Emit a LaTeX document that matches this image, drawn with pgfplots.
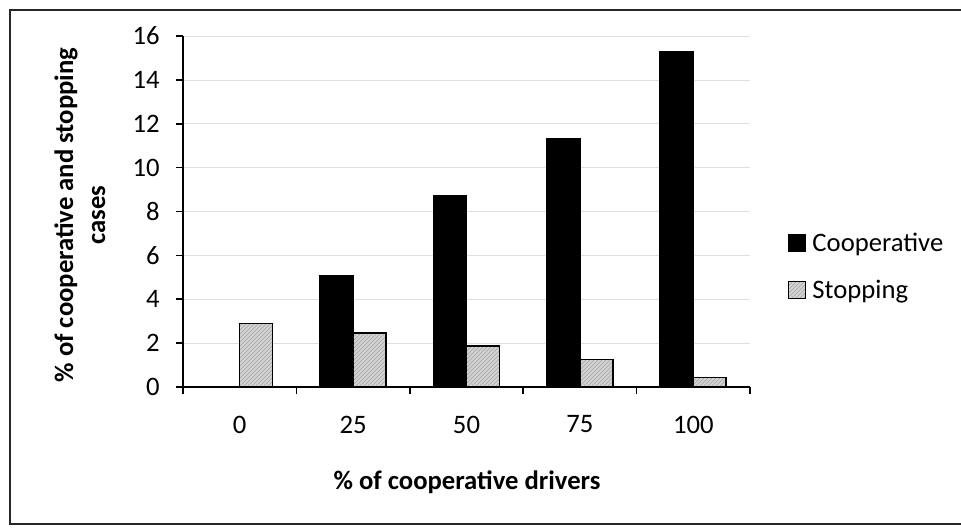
\documentclass[border=0pt]{standalone}
\usepackage{fontspec}
\setmainfont{Carlito}
\usepackage{pgfplots}
\pgfplotsset{compat=1.18}
\usetikzlibrary{patterns}

\pgfplotstableread{
x coop stop
0 0    2.89
1 5.09 2.46
2 8.70 1.86
3 11.32 1.25
4 15.27 0.43
}\cases

\begin{document}
\begin{tikzpicture}[font=\fontsize{20}{24}\selectfont]
\useasboundingbox (-137.25pt,-107.25pt) rectangle (583.5pt,290.25pt);
% outer frame of the scanned chart
\draw[line width=1.2pt, black!85] (583.5pt,282.75pt) -- (-129.75pt,282.75pt)
  -- (-129.75pt,-102.75pt) -- (583.5pt,-102.75pt);
\begin{axis}[
    at={(0pt,0pt)}, anchor=south west,
    scale only axis, width=425.25pt, height=263.25pt,
    ybar=0pt, bar width=24.75pt,
    every axis plot post/.append style={
        legend image code/.code={\draw[##1, line width=0.8pt] (0pt,-6.4pt) rectangle (12.8pt,6.4pt);}},
    xmin=-0.5, xmax=4.5, ymin=0, ymax=16,
    xtick={-0.5,0.5,...,4.5}, x tick label as interval,
    xticklabels={0,25,50,75,100},
    ytick={0,2,...,16},
    axis x line*=bottom, axis y line*=left,
    axis line style={line width=1.5pt, -},
    tick align=outside, major tick length=5pt,
    tick style={line width=1.2pt, black},
    ymajorgrids, major grid style={gray!25, line width=0.5pt},
    /pgf/number format/assume math mode=true,
    tick label style={font=\fontsize{20}{24}\selectfont},
    xticklabel style={yshift=-13pt},
    yticklabel style={xshift=-9pt},
    xlabel={\bfseries \% of cooperative drivers},
    xlabel style={at={(axis description cs:0.501,-0.27)}, anchor=center},
    ylabel={\bfseries \% of cooperative and stopping\\ \bfseries cases},
    ylabel style={at={(axis description cs:-0.182,0.49)}, anchor=center, align=center},
    legend style={draw=none, fill=none, at={(axis description cs:1.066,0.343)},
        anchor=west, inner sep=0pt, row sep=16pt, column sep=3pt,
        font=\fontsize{20}{24}\selectfont},
    legend cell align=left,
]
\addplot[fill=black, draw=black, line width=1.2pt] table[x=x, y=coop] {\cases};
\addplot[fill=gray!35, draw=black, line width=1.2pt,
    postaction={pattern=north east lines, pattern color=gray!70}]
    table[x=x, y=stop] {\cases};
\legend{Cooperative, Stopping}
\end{axis}
\end{tikzpicture}
\end{document}
